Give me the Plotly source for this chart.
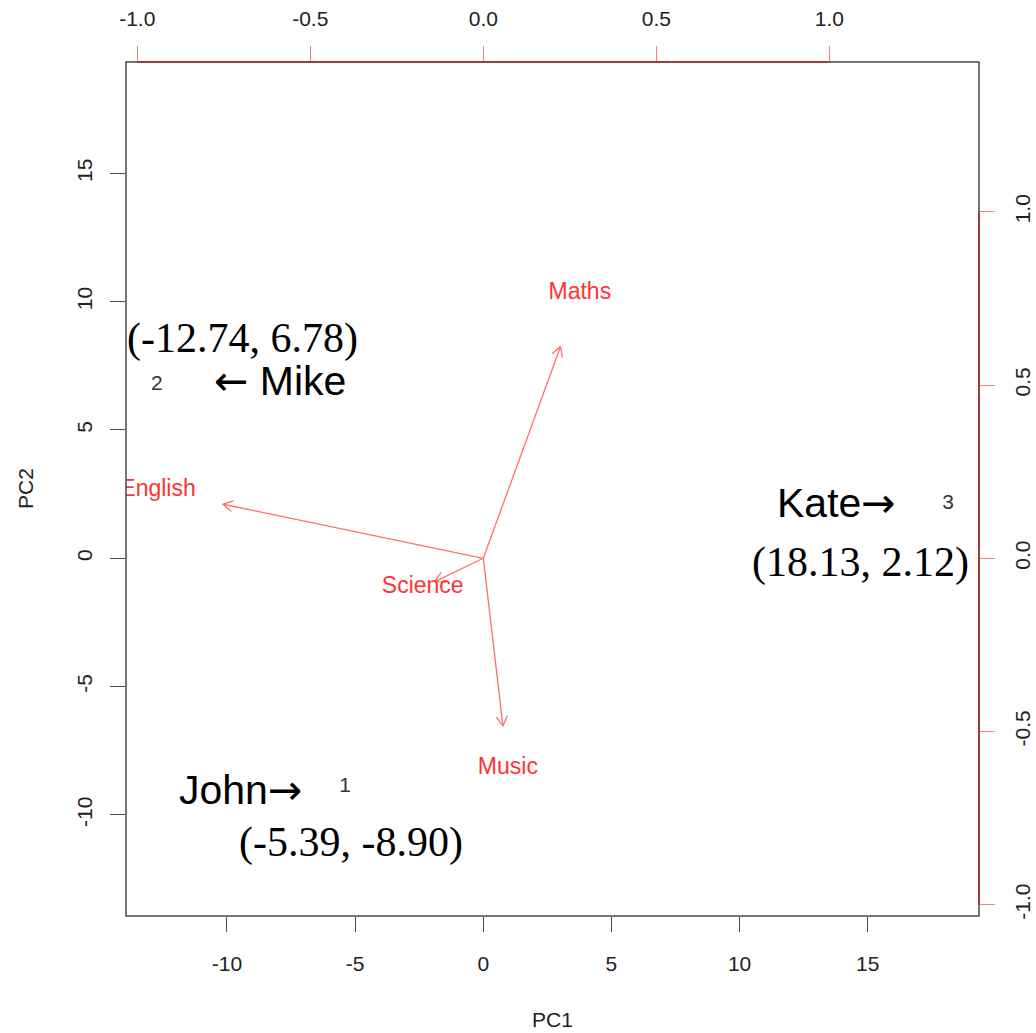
import numpy as np
import plotly.graph_objects as go

# Student scores on the first two principal components
student_ids = ["1", "2", "3"]
student_names = ["John", "Mike", "Kate"]
pc1_scores = [-5.39, -12.74, 18.13]
pc2_scores = [-8.90, 6.78, 2.12]

# Subject loadings on PC1 / PC2
subjects = ["Maths", "English", "Science", "Music"]
loading_pc1 = [0.279, -0.940, -0.175, 0.071]
loading_pc2 = [0.764, 0.195, -0.084, -0.605]

score_ticks = [-10, -5, 0, 5, 10, 15]
loading_ticks = [-1.0, -0.5, 0.0, 0.5, 1.0]

SANS = "Liberation Sans, Arial, Helvetica, sans-serif"
SERIF = "Liberation Serif, Times New Roman, serif"
ARROW_FONT = "DejaVu Sans"
LABEL_RED = "rgb(255,52,52)"
ARROW_RED = "rgb(255,110,110)"
AXIS_RED = "rgb(165,45,45)"
TICK_RED = "rgb(255,125,125)"
BOX_GREY = "#4a4a4a"

# Both score axes share one range so the plot keeps a 1:1 aspect
score_range = [-13.94, 19.34]
ratio = 13.5  # score units per loading unit
loading_range = [v / ratio for v in score_range]

fig = go.Figure()

# Loading arrows: shaft to 0.8 * loading, open V-shaped head
ax = np.array(loading_pc1) * 0.8
ay = np.array(loading_pc2) * 0.8
head_len = 0.032
head_ang = np.deg2rad(30)
xs, ys = [], []
for tx, ty in zip(ax, ay):
    th = np.arctan2(ty, tx)
    xs += [0, tx, None]
    ys += [0, ty, None]
    xs += [tx - head_len * np.cos(th + head_ang), tx,
           tx - head_len * np.cos(th - head_ang), None]
    ys += [ty - head_len * np.sin(th + head_ang), ty,
           ty - head_len * np.sin(th - head_ang), None]

fig.add_trace(go.Scatter(
    x=xs, y=ys, xaxis="x2", yaxis="y2", mode="lines",
    line=dict(color=ARROW_RED, width=1.3),
    hoverinfo="skip", showlegend=False,
))

# Subject names at the loading positions
fig.add_trace(go.Scatter(
    x=loading_pc1, y=loading_pc2, xaxis="x2", yaxis="y2",
    mode="text", text=subjects, textposition="middle center",
    textfont=dict(family=SANS, size=23, color=LABEL_RED),
    hoverinfo="skip", showlegend=False, cliponaxis=True,
))

# Observation numbers at the score positions
fig.add_trace(go.Scatter(
    x=pc1_scores, y=pc2_scores, mode="text", text=student_ids,
    textposition="middle center",
    textfont=dict(family=SANS, size=21, color="#333333"),
    hoverinfo="skip", showlegend=False,
))

# Name tags and coordinate notes around each student (pixel offsets)
right_arrow = f'<span style="font-family:{ARROW_FONT}">\u2192</span>'
left_arrow = f'<span style="font-family:{ARROW_FONT}">\u2190</span>'
name_tags = {"John": "John" + right_arrow,
             "Mike": left_arrow + " Mike",
             "Kate": "Kate" + right_arrow}
name_offset = {"John": (-105, -3), "Mike": (123, 3), "Kate": (-111, 1)}
coord_offset = {"John": (6, -56), "Mike": (86, 46), "Kate": (-87, -59)}

annotations = []
for name, x, y in zip(student_names, pc1_scores, pc2_scores):
    dx, dy = name_offset[name]
    annotations.append(dict(
        x=x, y=y, xref="x", yref="y", text=name_tags[name],
        showarrow=False, xanchor="center", yanchor="middle",
        xshift=dx, yshift=dy,
        font=dict(family=SANS, size=41, color="black"),
    ))
    dx, dy = coord_offset[name]
    annotations.append(dict(
        x=x, y=y, xref="x", yref="y", text=f"({x:.2f}, {y:.2f})",
        showarrow=False, xanchor="center", yanchor="middle",
        xshift=dx, yshift=dy,
        font=dict(family=SERIF, size=42, color="black"),
    ))

# Axis titles
annotations.append(dict(
    x=0.5, y=0, xref="paper", yref="paper", text="PC1", showarrow=False,
    xanchor="center", yanchor="middle", yshift=-103,
    font=dict(family=SANS, size=21, color="#222222"),
))
annotations.append(dict(
    x=0, y=0.5, xref="paper", yref="paper", text="PC2", showarrow=False,
    xanchor="center", yanchor="middle", xshift=-101, textangle=-90,
    font=dict(family=SANS, size=21, color="#222222"),
))

shapes = [
    # plot frame
    dict(type="rect", xref="paper", yref="paper", x0=0, x1=1, y0=0, y1=1,
         line=dict(color=BOX_GREY, width=1.5), layer="above"),
    # red loading axis lines spanning the tick range
    dict(type="line", xref="x2", yref="paper",
         x0=loading_ticks[0], x1=loading_ticks[-1], y0=1, y1=1,
         line=dict(color=AXIS_RED, width=1.5), layer="above"),
    dict(type="line", xref="paper", yref="y2", x0=1, x1=1,
         y0=loading_ticks[0], y1=loading_ticks[-1],
         line=dict(color=AXIS_RED, width=1.5), layer="above"),
]

tick_font = dict(family=SANS, size=21, color="#222222")
common = dict(showgrid=False, zeroline=False, showline=False,
              ticks="outside", ticklen=15, tickwidth=1.3,
              tickfont=tick_font, fixedrange=True, automargin=False)

fig.update_layout(
    width=1036, height=1033,
    margin=dict(l=126, r=57, t=62, b=117, pad=0),
    paper_bgcolor="white", plot_bgcolor="white",
    showlegend=False,
    xaxis=dict(range=score_range, tickvals=score_ticks,
               ticktext=[str(v) for v in score_ticks],
               tickcolor=BOX_GREY, ticklabelstandoff=14, **common),
    yaxis=dict(range=score_range, tickvals=score_ticks,
               ticktext=[str(v) for v in score_ticks],
               tickcolor=BOX_GREY, tickangle=-90,
               ticklabelstandoff=10, **common),
    xaxis2=dict(range=loading_range, overlaying="x", side="top",
                anchor="y", tickvals=loading_ticks,
                ticktext=[f"{v:.1f}" for v in loading_ticks],
                tickcolor=TICK_RED, ticklabelstandoff=12, **common),
    yaxis2=dict(range=loading_range, overlaying="y", side="right",
                anchor="x", tickvals=loading_ticks,
                ticktext=[f"{v:.1f}" for v in loading_ticks],
                tickcolor=TICK_RED, tickangle=-90,
                ticklabelstandoff=10, **common),
    annotations=annotations,
    shapes=shapes,
)

fig.write_html("out.html")
